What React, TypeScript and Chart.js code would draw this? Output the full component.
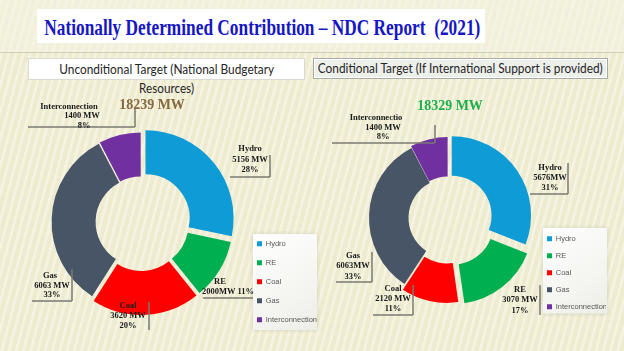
import React, { useEffect, useLayoutEffect, useRef } from "react";
import { Chart, registerables } from "chart.js";

Chart.register(...registerables);

// ---------- data ----------
const categories = ["Hydro", "RE", "Coal", "Gas", "Interconnection"];
const sliceColors = ["#0E9BD6", "#00B050", "#FF0000", "#475566", "#7030A0"];
const unconditionalMW = [5156, 2000, 3620, 6063, 1400];
const conditionalMW = [5676, 3070, 2120, 6063, 1400];
const unconditionalLabels = [
  ["Hydro", "5156 MW", "28%"],
  ["RE", "2000MW 11%"],
  ["Coal", "3620 MW", "20%"],
  ["Gas", "6063 MW", "33%"],
  ["Interconnection", "1400 MW", "8%"],
];
const conditionalLabels = [
  ["Hydro", "5676MW", "31%"],
  ["RE", "3070 MW", "17%"],
  ["Coal", "2120 MW", "11%"],
  ["Gas", "6063MW", "33%"],
  ["Interconnectio", "1400 MW", "8%"],
];
const titleText = "Nationally Determined Contribution \u2013 NDC Report  (2021)";
const leftHeader = ["Unconditional Target (National Budgetary", "Resources)"];
const rightHeader = "Conditional Target (If International Support is provided)";

// ---------- layout (relative to doughnut centre) ----------
type LabelLayout = { pos: number[][]; segs: number[][] };
const leftLayout: LabelLayout[] = [
  { pos: [[109, -73], [109, -62], [109, -52]], segs: [[89, -45, 129, -45], [129, -67, 129, -45]] },
  { pos: [[79, 60], [87, 70]], segs: [[62, 76, 112, 76]] },
  { pos: [[-13, 84], [-13, 94], [-13, 104]], segs: [[8, 80, 8, 108]] },
  { pos: [[-91, 54], [-89, 64], [-89, 73]], segs: [[-69, 47, -69, 79], [-109, 79, -69, 79]] },
  { pos: [[-72, -115], [-59, -106], [-57, -96]], segs: [[-113, -95, -6, -95], [-6, -113, -6, -95]] },
];
const rightLayout: LabelLayout[] = [
  { pos: [[102, -50], [102, -40], [102, -30]], segs: [[120, -55, 120, -24], [82, -24, 120, -24]] },
  { pos: [[72, 72], [72, 82], [72, 93]], segs: [[92, 67, 92, 97]] },
  { pos: [[-55, 71], [-55, 81], [-55, 91]], segs: [[-35, 67, -35, 97], [-75, 97, -35, 97]] },
  { pos: [[-95, 38], [-95, 48], [-95, 59]], segs: [[-76, 34, -76, 64], [-112, 64, -76, 64]] },
  { pos: [[-72, -100], [-65, -90], [-65, -81]], segs: [[-116, -75, -13, -75], [-13, -93, -13, -75]] },
];

type PanelCfg = {
  values: number[];
  labels: string[][];
  layout: LabelLayout[];
  offsets: number[];
  radius: number;
  padding: { left: number; right: number; top: number; bottom: number };
  legendMaxWidth: number;
  legendPadding: number;
  legendBg: { top: number; bottom: number; right: number };
  total: { dx: number; dy: number; color: string };
};

const leftCfg: PanelCfg = {
  values: unconditionalMW,
  labels: unconditionalLabels,
  layout: leftLayout,
  offsets: [23, 12, 19, 5, 4],
  radius: 88,
  padding: { left: 36.5, right: 0, top: 19, bottom: 16 },
  legendMaxWidth: 74.5,
  legendPadding: 11.5,
  legendBg: { top: 6, bottom: 6.5, right: 3 },
  total: { dx: 11, dy: -117, color: "#85693F" },
};
const rightCfg: PanelCfg = {
  values: conditionalMW,
  labels: conditionalLabels,
  layout: rightLayout,
  offsets: [18, 31, 18, 0, 5],
  radius: 79,
  padding: { left: 46.5, right: 18, top: 26, bottom: 31 },
  legendMaxWidth: 68.5,
  legendPadding: 9.5,
  legendBg: { top: 7, bottom: 3, right: -1 },
  total: { dx: 2, dy: -112, color: "#1DAF4B" },
};

function makePlugin(cfg: PanelCfg) {
  return {
    id: "panelAnnotations",
    beforeDraw(chart: any) {
      const lg = chart.legend;
      if (!lg || !lg.legendHitBoxes || !lg.legendHitBoxes.length) return;
      const hb = lg.legendHitBoxes;
      const top = Math.min(...hb.map((h: any) => h.top)) - cfg.legendBg.top;
      const bottom = Math.max(...hb.map((h: any) => h.top + h.height)) + cfg.legendBg.bottom;
      const left = hb[0].left - 4;
      const right = lg.right - cfg.legendBg.right;
      const ctx = chart.ctx;
      ctx.save();
      ctx.shadowColor = "rgba(0,0,0,0.12)";
      ctx.shadowBlur = 4;
      const g = ctx.createLinearGradient(left, top, right, bottom);
      g.addColorStop(0, "#FFFFFF");
      g.addColorStop(1, "#EEEEE8");
      ctx.fillStyle = g;
      ctx.fillRect(left, top, right - left, bottom - top);
      ctx.restore();
    },
    afterDatasetsDraw(chart: any) {
      const meta = chart.getDatasetMeta(0);
      if (!meta.data.length) return;
      const cx = meta.data[0].x;
      const cy = meta.data[0].y;
      const ctx = chart.ctx;
      ctx.save();
      ctx.strokeStyle = "#7A7A72";
      ctx.lineWidth = 1.5;
      cfg.layout.forEach((l) => {
        l.segs.forEach((s) => {
          ctx.beginPath();
          ctx.moveTo(cx + s[0], cy + s[1]);
          ctx.lineTo(cx + s[2], cy + s[3]);
          ctx.stroke();
        });
      });
      ctx.fillStyle = "#1A1A1A";
      ctx.font = "bold 8.5px 'Liberation Serif', serif";
      ctx.textAlign = "center";
      ctx.textBaseline = "middle";
      cfg.labels.forEach((lines, i) => {
        const l = cfg.layout[i];
        lines.forEach((t, j) => {
          const p = l.pos[j];
          ctx.fillText(t, cx + p[0], cy + p[1]);
        });
      });
      const total = cfg.values.reduce((a, b) => a + b, 0);
      ctx.font = "bold 14px 'Liberation Serif', serif";
      ctx.fillStyle = cfg.total.color;
      ctx.fillText(`${total} MW`, cx + cfg.total.dx, cy + cfg.total.dy);
      ctx.restore();
    },
  };
}

function Donut({ cfg, left, top, width, height }: { cfg: PanelCfg; left: number; top: number; width: number; height: number }) {
  const ref = useRef<HTMLCanvasElement>(null);
  useEffect(() => {
    if (!ref.current) return;
    const chart = new Chart(ref.current, {
      type: "doughnut",
      data: {
        labels: categories,
        datasets: [
          {
            data: cfg.values,
            backgroundColor: sliceColors,
            borderWidth: 0,
            offset: cfg.offsets,
          },
        ],
      },
      options: {
        responsive: false,
        animation: false,
        radius: cfg.radius,
        cutout: "50%",
        layout: { padding: cfg.padding },
        plugins: {
          tooltip: { enabled: false },
          legend: {
            display: true,
            position: "right",
            align: "end",
            maxWidth: cfg.legendMaxWidth,
            labels: {
              boxWidth: 5,
              boxHeight: 5,
              padding: cfg.legendPadding,
              color: "#595959",
              font: { size: 7.5, family: "'Liberation Sans', Arial, sans-serif" },
            },
          },
        },
      } as any,
      plugins: [makePlugin(cfg)],
    });
    return () => chart.destroy();
  }, [cfg]);
  return (
    <canvas
      ref={ref}
      width={width}
      height={height}
      style={{ position: "absolute", left, top, width, height, display: "block" }}
    />
  );
}

function FitText({ text, width, style }: { text: string; width: number; style: React.CSSProperties }) {
  const ref = useRef<HTMLSpanElement>(null);
  useLayoutEffect(() => {
    const el = ref.current;
    if (!el) return;
    el.style.transform = "none";
    const w = el.getBoundingClientRect().width;
    if (w > 0) el.style.transform = `scaleX(${width / w})`;
  }, [text, width]);
  return (
    <span ref={ref} style={{ display: "inline-block", whiteSpace: "pre", transformOrigin: "center center", ...style }}>
      {text}
    </span>
  );
}

function CenterBox({ cx, cy, children }: { cx: number; cy: number; children: React.ReactNode }) {
  return (
    <div
      style={{
        position: "absolute",
        left: cx - 300,
        top: cy - 20,
        width: 600,
        height: 40,
        display: "flex",
        alignItems: "center",
        justifyContent: "center",
        pointerEvents: "none",
      }}
    >
      {children}
    </div>
  );
}

export default function App() {
  useEffect(() => {
    document.body.style.margin = "0";
  }, []);
  const headerFont: React.CSSProperties = {
    fontFamily: "Lato, 'Open Sans', sans-serif",
    fontSize: 13,
    color: "#262626",
    lineHeight: "15px",
  };
  return (
    <div
      style={{
        position: "fixed",
        left: 0,
        top: 0,
        width: 624,
        height: 351,
        overflow: "hidden",
        backgroundColor: "#EEEBCF",
        backgroundImage:
          "repeating-linear-gradient(105deg, rgba(255,255,255,0.42) 0px, rgba(255,255,255,0.42) 2px, rgba(255,255,255,0) 3.5px, rgba(255,255,255,0) 7px)",
      }}
    >
      <div style={{ position: "absolute", left: 0, top: 0, width: 624, height: 52, background: "rgba(245,243,226,0.6)" }} />
      <div style={{ position: "absolute", left: 0, top: 52, width: 624, height: 1, background: "#CFCDB8" }} />
      <div style={{ position: "absolute", left: 37, top: 9, width: 448, height: 34, background: "#FFFFFF" }} />
      <CenterBox cx={262} cy={27}>
        <FitText
          text={titleText}
          width={436}
          style={{ fontFamily: "'Liberation Serif', serif", fontWeight: "bold", fontSize: 24, color: "#1616C4", lineHeight: "26px" }}
        />
      </CenterBox>
      <div
        style={{
          position: "absolute",
          left: 28,
          top: 58,
          width: 277,
          height: 22,
          boxSizing: "border-box",
          background: "#FFFFFF",
          border: "1px solid #DADAD2",
        }}
      />
      <CenterBox cx={167} cy={69}>
        <FitText text={leftHeader[0]} width={215} style={headerFont} />
      </CenterBox>
      <CenterBox cx={167} cy={88}>
        <FitText text={leftHeader[1]} width={55} style={headerFont} />
      </CenterBox>
      <div
        style={{
          position: "absolute",
          left: 313,
          top: 58,
          width: 295,
          height: 21,
          boxSizing: "border-box",
          background: "#EDEFEB",
          border: "1px solid #A9ABA6",
          boxShadow: "inset 0 0 0 1px #FFFFFF",
        }}
      />
      <CenterBox cx={460.5} cy={68.5}>
        <FitText text={rightHeader} width={285} style={headerFont} />
      </CenterBox>
      <Donut cfg={leftCfg} left={0} top={90} width={320} height={261} />
      <Donut cfg={rightCfg} left={312} top={90} width={312} height={261} />
    </div>
  );
}
